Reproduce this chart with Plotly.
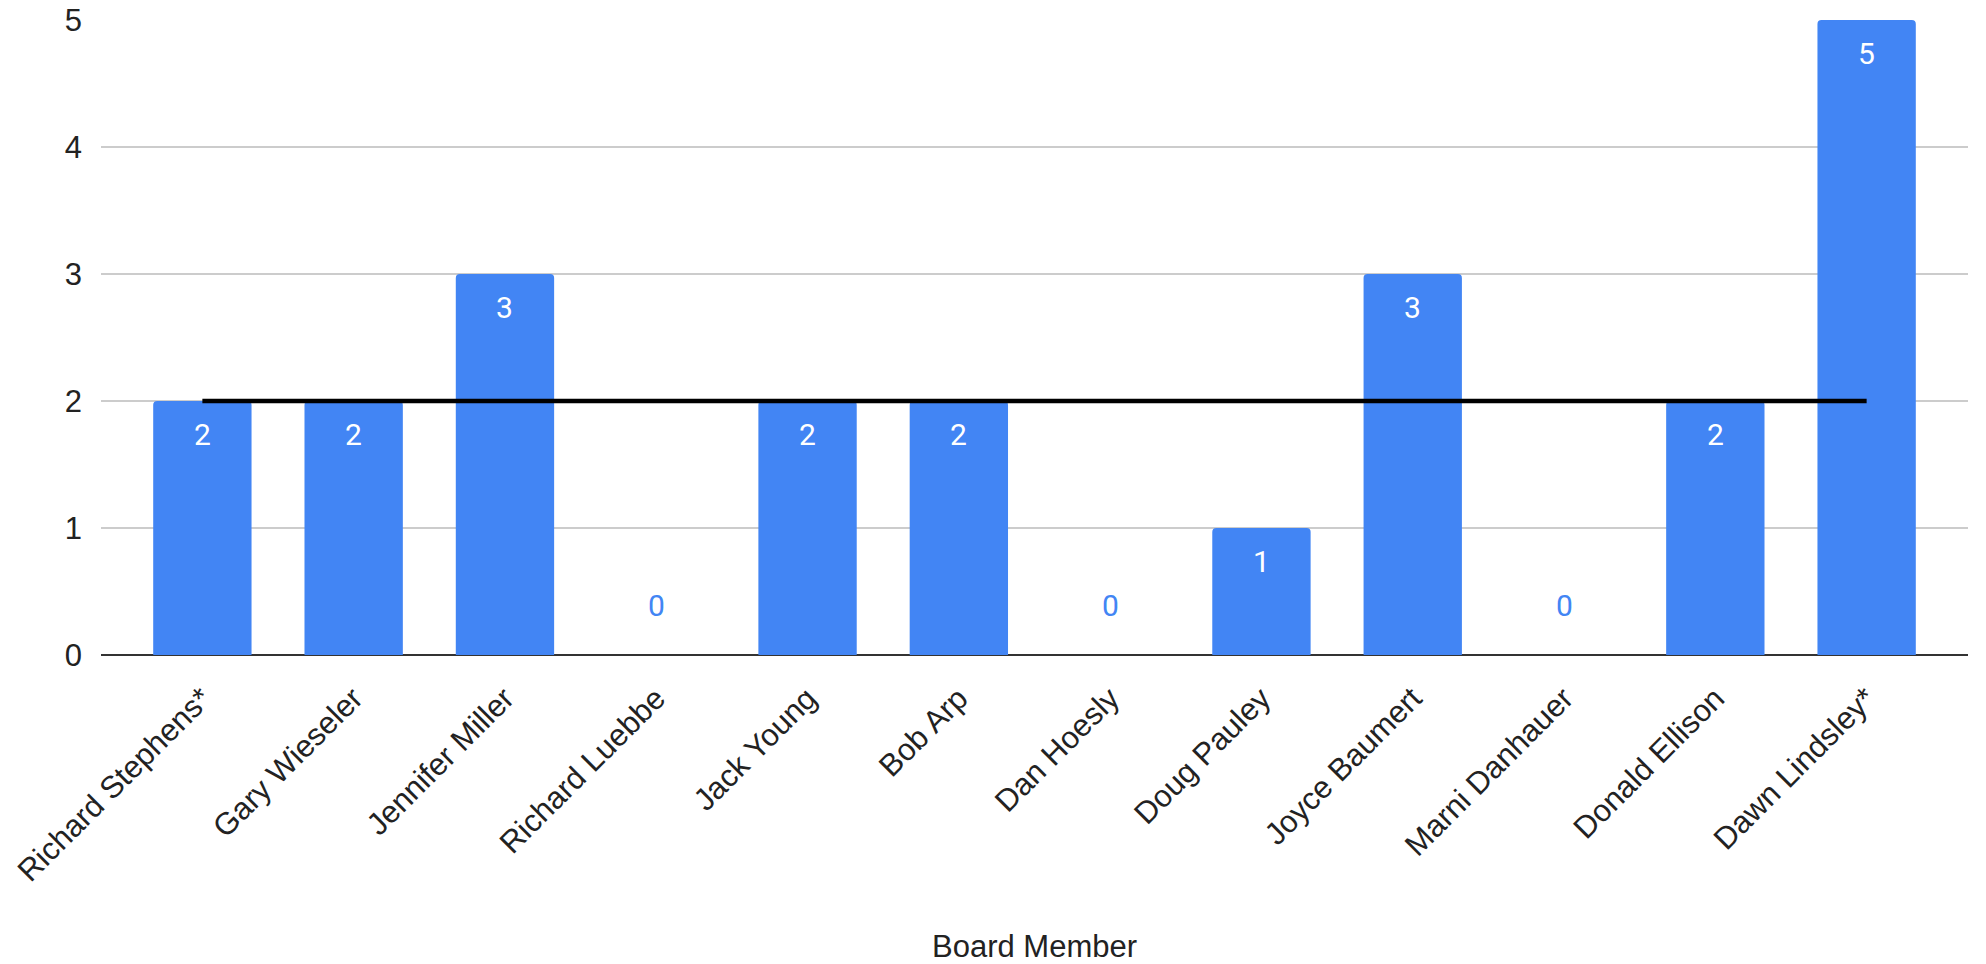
import plotly.graph_objects as go

members = ["Richard Stephens*", "Gary Wieseler", "Jennifer Miller", "Richard Luebbe",
           "Jack Young", "Bob Arp", "Dan Hoesly", "Doug Pauley", "Joyce Baumert",
           "Marni Danhauer", "Donald Ellison", "Dawn Lindsley*"]
counts = [2, 2, 3, 0, 2, 2, 0, 1, 3, 0, 2, 5]
average = [2] * len(members)
y_ticks = [0, 1, 2, 3, 4, 5]

BLUE = "#4285F4"
FONT = "Arial, Liberation Sans, sans-serif"

fig = go.Figure()
fig.add_trace(go.Bar(
    x=members, y=counts, marker=dict(color=BLUE, cornerradius=4, line=dict(width=0)),
    hoverinfo="x+y", showlegend=False,
))
fig.add_trace(go.Scatter(
    x=members, y=average, mode="lines", line=dict(color="black", width=4.5),
    showlegend=False, hoverinfo="skip",
))

annotations = []
for m, c in zip(members, counts):
    if c > 0:
        annotations.append(dict(x=m, y=c, xref="x", yref="y", text=str(c), showarrow=False,
                                yanchor="top", yshift=-14,
                                font=dict(family="Roboto, Arial", size=30, color="white")))
    else:
        annotations.append(dict(x=m, y=c, xref="x", yref="y", text=str(c), showarrow=False,
                                yanchor="bottom", yshift=30,
                                font=dict(family="Roboto, Arial", size=30, color=BLUE)))
annotations.append(dict(x=0.5, y=0, xref="paper", yref="paper", text="Board Member",
                        showarrow=False, yanchor="middle", yshift=-291,
                        font=dict(family=FONT, size=31, color="#222222")))

n = len(members)
fig.update_layout(
    width=1986, height=964,
    margin=dict(l=101, r=18, t=20, b=309, autoexpand=False),
    paper_bgcolor="white", plot_bgcolor="white",
    bargap=0.35,
    font=dict(family=FONT, size=31, color="#222222"),
    annotations=annotations,
    xaxis=dict(type="category", tickangle=-45, range=[-0.67, n - 1 + 0.67],
               showgrid=False, showline=False, ticks="", automargin=False,
               ticklabelstandoff=18,
               tickfont=dict(family=FONT, size=31, color="#222222")),
    yaxis=dict(range=[0, 5], tickvals=y_ticks, showgrid=True, gridcolor="#cccccc",
               gridwidth=2, zeroline=True, zerolinecolor="#333333", zerolinewidth=2,
               ticks="", ticklabelstandoff=18, automargin=False,
               tickfont=dict(family=FONT, size=31, color="#222222")),
)

fig.write_html("out.html")
